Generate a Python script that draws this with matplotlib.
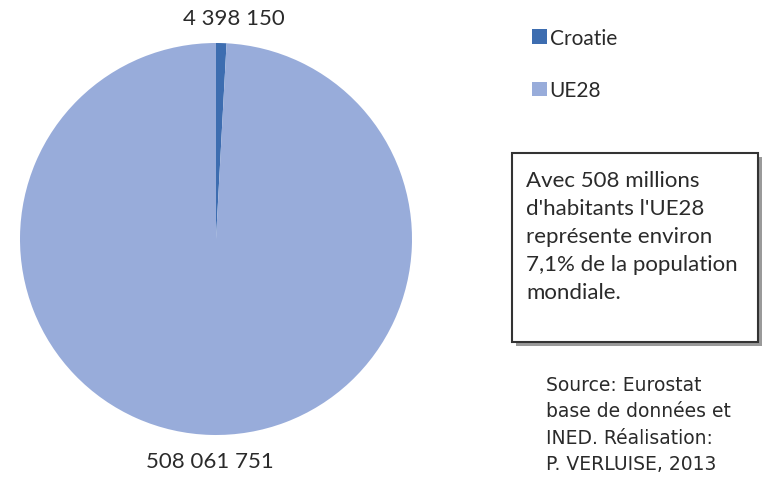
import matplotlib.pyplot as plt
from matplotlib.patches import Rectangle

# population data
categories = ["Croatie", "UE28"]
population = [4398150, 508061751]
colors = ["#3D6DB0", "#98ACDA"]

W, H = 763, 489
fig = plt.figure(figsize=(W / 100, H / 100), dpi=100)
plt.rcParams['font.family'] = ['Lato', 'DejaVu Sans']

def fx(px):
    return px / W

def fy(py):
    return 1 - py / H

# pie axes: centre (216, 240), radius 196 px
cx, cy, r = 216, 240, 196
ax = fig.add_axes([fx(cx - r), fy(cy + r), 2 * r / W, 2 * r / H])
wedges, _ = ax.pie(population, colors=colors, startangle=90, counterclock=False,
                   radius=1.0, wedgeprops=dict(linewidth=0))
ax.set_xlim(-1, 1)
ax.set_ylim(-1, 1)
ax.set_aspect('auto')
ax.axis('off')

def fmt(v):
    return f"{v:,}".replace(",", " ")

fig.text(fx(234), fy(19), fmt(population[0]), ha='center', va='center',
         fontsize=16, color='#2a2a2a')
fig.text(fx(210), fy(462), fmt(population[1]), ha='center', va='center',
         fontsize=16, color='#2a2a2a')

# legend
leg = fig.legend(wedges, categories, loc='upper left',
                 bbox_to_anchor=(fx(532), fy(29)), frameon=False, borderpad=0,
                 borderaxespad=0, handlelength=0.7, handleheight=0.7,
                 handletextpad=0.15, labelspacing=1.55, fontsize=15)
for t in leg.get_texts():
    t.set_color('#2a2a2a')

# text box with shadow
bx0, by0, bx1, by1 = 512, 154, 758, 343
fig.patches.append(Rectangle((fx(bx0 + 4), fy(by1 + 4)), fx(bx1 - bx0), (by1 - by0) / H,
                             transform=fig.transFigure, facecolor='#9a9a9a',
                             edgecolor='none', zorder=1))
fig.patches.append(Rectangle((fx(bx0), fy(by1)), fx(bx1 - bx0), (by1 - by0) / H,
                             transform=fig.transFigure, facecolor='white',
                             edgecolor='#333333', linewidth=1.5, zorder=2))
fig.text(fx(526), fy(171),
         "Avec 508 millions\nd'habitants l'UE28\nreprésente environ\n7,1% de la population\nmondiale.",
         ha='left', va='top', fontsize=16, linespacing=1.5, color='#2a2a2a', zorder=3)

# source
fig.text(fx(546), fy(376),
         "Source: Eurostat\nbase de données et\nINED. Réalisation:\nP. VERLUISE, 2013",
         ha='left', va='top', fontsize=13.5, linespacing=1.5, color='#2a2a2a',
         family=['DejaVu Sans'])

fig.savefig("out.png", dpi=100)
